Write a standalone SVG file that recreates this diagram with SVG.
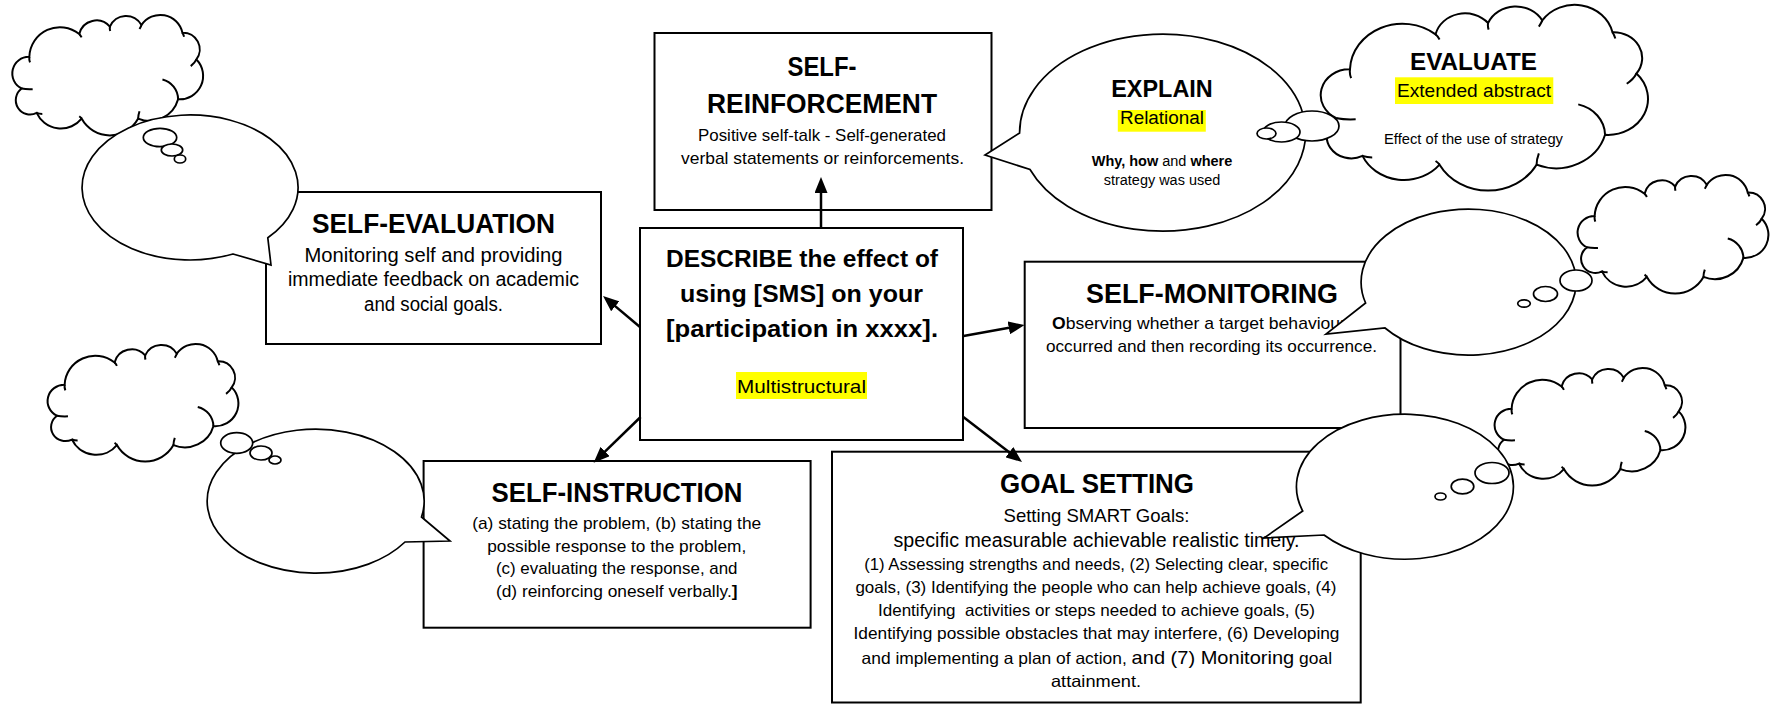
<svg xmlns="http://www.w3.org/2000/svg" xmlns:xlink="http://www.w3.org/1999/xlink" width="1778" height="704" viewBox="0 0 1778 704">
<style>
  .box { fill:#fff; stroke:#000; stroke-width:2; }
  .bub { fill:#fff; stroke:#000; stroke-width:1.7; stroke-linejoin:miter; }
  .ov { fill:#fff; stroke:#000; stroke-width:1.7; }
  .cl { fill:#fff; stroke:#000; stroke-width:2; }
  .cli { fill:none; stroke:#000; stroke-width:2; }
  .conn { fill:none; stroke:#000; stroke-width:2.5; marker-end:url(#ah); }
  .hl { fill:#ffff00; }
  text { font-family:"Liberation Sans", Arial, sans-serif; fill:#000; }
  .t { font-size:27px; font-weight:700; text-anchor:middle; }
  .m { font-size:24px; font-weight:700; text-anchor:middle; }
  .c { text-anchor:middle; }
  .b { font-weight:700; }
</style>
<defs>
  <marker id="ah" markerUnits="userSpaceOnUse" markerWidth="16" markerHeight="13" viewBox="0 0 16 13" refX="6" refY="6.5" orient="auto">
    <path d="M0,0 L16,6.5 L0,13 Z" fill="#000"/>
  </marker>
  <g id="cloud">
    <path class="cl" vector-effect="non-scaling-stroke" d="M56,125 A92,92 0 0 1 206,57 A53,53 0 0 1 298,35 A53,53 0 0 1 393,30 A68,68 0 0 1 516,53 A50,50 0 0 1 558,133 A70,70 0 0 1 503,252 A89,89 0 0 1 383,310 A97,97 0 0 1 213,310 A80,80 0 0 1 78,293 A43,43 0 0 1 33,220 A50,50 0 0 1 56,125 Z"/>
    <path class="cli" vector-effect="non-scaling-stroke" d="M56,125 Q55,134 58,142 M206,57 Q210,61 213,67 M298,35 Q297,42 299,48 M393,30 Q390,37 387,42 M516,53 Q519,58 521,65 M558,133 Q553,144 541,153 M456,193 A62,62 0 0 1 503,252 M383,310 Q383,300 387,288 M213,310 Q210,306 206,303 M78,293 Q86,296 95,296 M33,220 Q47,223 66,222"/>
  </g>
</defs>
<rect width="1778" height="704" fill="#fff"/>

<g id="node-self-evaluation">
  <rect class="box" x="266" y="192" width="335" height="152"/>
  <text class="t" x="433.5" y="233" textLength="243" lengthAdjust="spacingAndGlyphs">SELF-EVALUATION</text>
  <text class="c" x="433.5" y="262" font-size="19.5" textLength="258" lengthAdjust="spacingAndGlyphs">Monitoring self and providing</text>
  <text class="c" x="433.5" y="286" font-size="19.5" textLength="291" lengthAdjust="spacingAndGlyphs">immediate feedback on academic</text>
  <text class="c" x="433.5" y="310.5" font-size="19.5" textLength="139" lengthAdjust="spacingAndGlyphs">and social goals.</text>
</g>

<g id="node-self-reinforcement">
  <rect class="box" x="654.5" y="33" width="337" height="177"/>
  <text class="t" x="822" y="76" textLength="69" lengthAdjust="spacingAndGlyphs">SELF-</text>
  <text class="t" x="822" y="113" textLength="230" lengthAdjust="spacingAndGlyphs">REINFORCEMENT</text>
  <text class="c" x="822" y="141" font-size="17" textLength="248" lengthAdjust="spacingAndGlyphs">Positive self-talk - Self-generated</text>
  <text class="c" x="822.5" y="164" font-size="17" textLength="283" lengthAdjust="spacingAndGlyphs">verbal statements or reinforcements.</text>
</g>

<g id="node-describe">
  <rect class="box" x="640" y="228" width="323" height="212"/>
  <text class="m" x="802" y="267" textLength="272" lengthAdjust="spacingAndGlyphs">DESCRIBE the effect of</text>
  <text class="m" x="801.5" y="302" textLength="243" lengthAdjust="spacingAndGlyphs">using [SMS] on your</text>
  <text class="m" x="802" y="337.3" textLength="272" lengthAdjust="spacingAndGlyphs">[participation in xxxx].</text>
  <rect class="hl" x="736" y="372" width="131" height="27"/>
  <text class="c" x="801.5" y="392.5" font-size="19" textLength="129" lengthAdjust="spacingAndGlyphs">Multistructural</text>
</g>

<g id="node-self-monitoring">
  <rect class="box" x="1024.7" y="261.7" width="375.8" height="166.3"/>
  <text class="t" x="1212" y="302.7" textLength="252" lengthAdjust="spacingAndGlyphs">SELF-MONITORING</text>
  <text x="1052" y="329.3" font-size="17" textLength="294" lengthAdjust="spacingAndGlyphs"><tspan class="b">O</tspan>bserving whether a target behaviour</text>
  <text class="c" x="1211.5" y="351.7" font-size="17" textLength="331" lengthAdjust="spacingAndGlyphs">occurred and then recording its occurrence.</text>
</g>

<g id="node-self-instruction">
  <rect class="box" x="423.6" y="461" width="387" height="166.7"/>
  <text class="t" x="617" y="502.3" textLength="251" lengthAdjust="spacingAndGlyphs">SELF-INSTRUCTION</text>
  <text class="c" x="616.7" y="529" font-size="17" textLength="289" lengthAdjust="spacingAndGlyphs">(a) stating the problem, (b) stating the</text>
  <text class="c" x="616.7" y="552" font-size="17" textLength="259" lengthAdjust="spacingAndGlyphs">possible response to the problem,</text>
  <text class="c" x="616.7" y="574.3" font-size="17" textLength="241.6" lengthAdjust="spacingAndGlyphs">(c) evaluating the response, and</text>
  <text class="c" x="616.7" y="596.7" font-size="17" textLength="241.6" lengthAdjust="spacingAndGlyphs">(d) reinforcing oneself verbally.<tspan class="b">]</tspan></text>
</g>

<g id="node-goal-setting">
  <rect class="box" x="832" y="451.7" width="528.7" height="250.8"/>
  <text class="t" x="1097" y="492.7" textLength="194" lengthAdjust="spacingAndGlyphs">GOAL SETTING</text>
  <text class="c" x="1096.5" y="521.7" font-size="19" textLength="186" lengthAdjust="spacingAndGlyphs">Setting SMART Goals:</text>
  <text class="c" x="1096.5" y="546.7" font-size="20" textLength="406" lengthAdjust="spacingAndGlyphs">specific measurable achievable realistic timely.</text>
  <text class="c" x="1096.2" y="570.3" font-size="16.5" textLength="464" lengthAdjust="spacingAndGlyphs">(1) Assessing strengths and needs, (2) Selecting clear, specific</text>
  <text class="c" x="1095.9" y="592.7" font-size="16.5" textLength="481" lengthAdjust="spacingAndGlyphs">goals, (3) Identifying the people who can help achieve goals, (4)</text>
  <text class="c" x="1096.5" y="616" font-size="16.5" textLength="437" lengthAdjust="spacingAndGlyphs" xml:space="preserve">Identifying  activities or steps needed to achieve goals, (5)</text>
  <text class="c" x="1096.5" y="639.3" font-size="16.5" textLength="486" lengthAdjust="spacingAndGlyphs">Identifying possible obstacles that may interfere, (6) Developing</text>
  <text class="c" x="1096.8" y="664.3" font-size="16.5" textLength="470.5" lengthAdjust="spacingAndGlyphs">and implementing a plan of action, <tspan font-size="19">and (7) Monitoring</tspan> goal</text>
  <text class="c" x="1096" y="687.3" font-size="16.5" textLength="90" lengthAdjust="spacingAndGlyphs">attainment.</text>
</g>

<g id="connectors">
  <line class="conn" x1="821" y1="228" x2="821" y2="187"/>
  <line class="conn" x1="640" y1="327" x2="610.7" y2="302.4"/>
  <line class="conn" x1="963.5" y1="336" x2="1014.7" y2="326.8"/>
  <line class="conn" x1="963" y1="416.7" x2="1014.1" y2="455.9"/>
  <line class="conn" x1="640.6" y1="417" x2="600.8" y2="455.7"/>
</g>

<g id="thought-self-evaluation">
  <use xlink:href="#cloud" href="#cloud" transform="translate(10.7,15) scale(0.3328,0.3342)"/>
  <path class="bub" d="M233,254 L271,265 L267.8,237.8 A108,72.5 0 1 0 233,254 Z"/>
  <ellipse class="ov" cx="160" cy="137.5" rx="16.7" ry="9.2"/>
  <ellipse class="ov" cx="172" cy="150" rx="10.7" ry="6"/>
  <ellipse class="ov" cx="180" cy="159" rx="5.7" ry="4"/>
</g>

<g id="thought-self-instruction">
  <use xlink:href="#cloud" href="#cloud" transform="translate(46,344) scale(0.3328,0.326)"/>
  <path class="bub" d="M421.5,517 L450,541 L405,542 A108.5,72 0 1 1 421.5,517 Z"/>
  <ellipse class="ov" cx="236.7" cy="443" rx="16" ry="10.3"/>
  <ellipse class="ov" cx="261" cy="453" rx="11" ry="7"/>
  <ellipse class="ov" cx="275" cy="460" rx="6" ry="4"/>
</g>

<g id="node-explain">
  <path class="bub" d="M1019.6,133 L985,155 L1030,169.5 A143,98.5 0 1 0 1019.6,133 Z"/>
  <text class="m" x="1162" y="96.7" font-size="23" textLength="101.5" lengthAdjust="spacingAndGlyphs">EXPLAIN</text>
  <rect class="hl" x="1117.8" y="110" width="88" height="21.7"/>
  <text class="c" x="1162" y="124" font-size="18" textLength="84" lengthAdjust="spacingAndGlyphs">Relational</text>
  <text class="c" x="1162" y="165.7" font-size="14" textLength="140.5" lengthAdjust="spacingAndGlyphs"><tspan class="b">Why, how</tspan> and <tspan class="b">where</tspan></text>
  <text class="c" x="1162" y="185" font-size="14" textLength="116.5" lengthAdjust="spacingAndGlyphs">strategy was used</text>
</g>

<g id="node-evaluate">
  <use xlink:href="#cloud" href="#cloud" transform="translate(1318,5) scale(0.5707,0.515)"/>
  <text class="m" x="1473.5" y="70" textLength="127" lengthAdjust="spacingAndGlyphs">EVALUATE</text>
  <rect class="hl" x="1395" y="77.3" width="158.3" height="26.7"/>
  <text class="c" x="1474" y="97.3" font-size="19" textLength="154" lengthAdjust="spacingAndGlyphs">Extended abstract</text>
  <text class="c" x="1473.5" y="144.3" font-size="14.5" textLength="179" lengthAdjust="spacingAndGlyphs">Effect of the use of strategy</text>
  <ellipse class="ov" cx="1312" cy="126" rx="27" ry="15"/>
  <ellipse class="ov" cx="1281.5" cy="132" rx="18.5" ry="10"/>
  <ellipse class="ov" cx="1266.5" cy="133.5" rx="9.5" ry="5.5"/>
</g>

<g id="thought-self-monitoring">
  <use xlink:href="#cloud" href="#cloud" transform="translate(1576,175) scale(0.3328,0.3288)"/>
  <path class="bub" d="M1365.6,303 L1326,334 L1385,328 A107.5,73 0 1 0 1365.6,303 Z"/>
  <ellipse class="ov" cx="1576" cy="280.5" rx="16" ry="10.5"/>
  <ellipse class="ov" cx="1545.5" cy="294" rx="12" ry="7.5"/>
  <ellipse class="ov" cx="1524" cy="303.5" rx="6.3" ry="3.7"/>
</g>

<g id="thought-goal-setting">
  <use xlink:href="#cloud" href="#cloud" transform="translate(1493,368) scale(0.3328,0.326)"/>
  <path class="bub" d="M1302.7,511 L1264,538 L1324,535 A108.5,72.5 0 1 0 1302.7,511 Z"/>
  <ellipse class="ov" cx="1492" cy="473" rx="17" ry="10.5"/>
  <ellipse class="ov" cx="1462.5" cy="486.5" rx="11.3" ry="7.3"/>
  <ellipse class="ov" cx="1440.5" cy="496.5" rx="5.5" ry="3.5"/>
</g>
</svg>
